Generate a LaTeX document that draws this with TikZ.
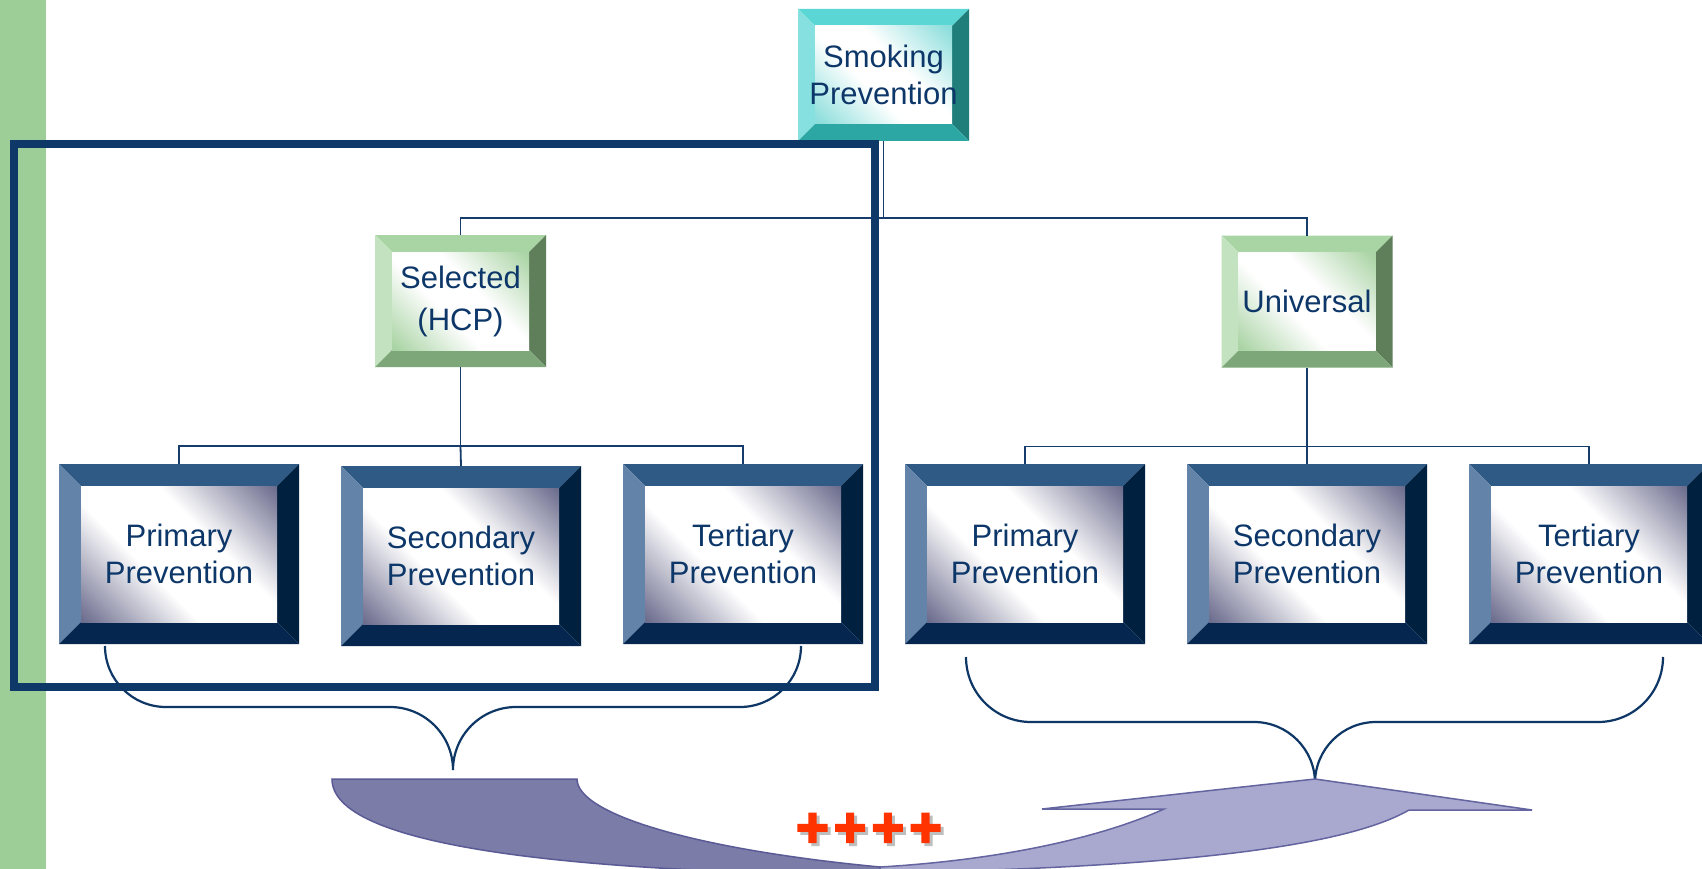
\documentclass[tikz,border=0pt]{standalone}
\usepackage{fontspec}
\setmainfont{Liberation Sans}
\newfontfamily\plusfont[FakeBold=3.5]{Liberation Sans Bold}
\definecolor{stripe}{RGB}{157,206,152}
\definecolor{frameblue}{RGB}{13,56,104}
\definecolor{txt}{RGB}{13,55,105}
\definecolor{conncol}{RGB}{22,60,108}
\definecolor{bracecol}{RGB}{14,55,102}
\definecolor{nvTop}{RGB}{47,90,133}
\definecolor{nvLeft}{RGB}{99,132,168}
\definecolor{nvRight}{RGB}{0,32,63}
\definecolor{nvBot}{RGB}{4,38,79}
\definecolor{nvShade}{RGB}{108,108,142}
\definecolor{grTop}{RGB}{168,213,163}
\definecolor{grLeft}{RGB}{195,227,192}
\definecolor{grRight}{RGB}{95,127,91}
\definecolor{grBot}{RGB}{125,166,121}
\definecolor{grShade}{RGB}{170,212,165}
\definecolor{tlTop}{RGB}{90,214,212}
\definecolor{tlLeft}{RGB}{134,224,223}
\definecolor{tlRight}{RGB}{31,125,122}
\definecolor{tlBot}{RGB}{44,167,164}
\definecolor{tlShade}{RGB}{140,222,220}
\definecolor{arDark}{RGB}{124,124,168}
\definecolor{arDarkLine}{RGB}{90,90,150}
\definecolor{arLight}{RGB}{169,169,207}
\definecolor{arLightLine}{RGB}{100,100,160}
\definecolor{plusred}{RGB}{255,51,0}
\definecolor{plusgrey}{RGB}{190,190,190}
\pgfdeclareverticalshading{shnavy}{100bp}{color(0bp)=(nvShade); color(15bp)=(nvShade); color(40bp)=(white); color(60bp)=(white); color(85bp)=(nvShade); color(100bp)=(nvShade)}
\pgfdeclareverticalshading{shgreen}{100bp}{color(0bp)=(grShade); color(16bp)=(grShade); color(42bp)=(white); color(58bp)=(white); color(84bp)=(grShade); color(100bp)=(grShade)}
\pgfdeclareverticalshading{shteal}{100bp}{color(0bp)=(tlShade); color(16bp)=(tlShade); color(42bp)=(white); color(58bp)=(white); color(84bp)=(tlShade); color(100bp)=(tlShade)}
\tikzset{
  bevelbox/.style n args={6}{
    rectangle, inner sep=0pt, outer sep=0pt, align=center, text=txt,
    font=\fontsize{31}{37}\selectfont,
    path picture={
      \coordinate (bNW) at (path picture bounding box.north west);
      \coordinate (bNE) at (path picture bounding box.north east);
      \coordinate (bSW) at (path picture bounding box.south west);
      \coordinate (bSE) at (path picture bounding box.south east);
      \coordinate (iNW) at ([shift={(#1,-#1)}]bNW);
      \coordinate (iNE) at ([shift={(-#1,-#1)}]bNE);
      \coordinate (iSW) at ([shift={(#1,#1)}]bSW);
      \coordinate (iSE) at ([shift={(-#1,#1)}]bSE);
      \fill[#2] (bNW) -- (bNE) -- (iNE) -- (iNW) -- cycle;
      \fill[#3] (bNW) -- (iNW) -- (iSW) -- (bSW) -- cycle;
      \fill[#4] (bNE) -- (bSE) -- (iSE) -- (iNE) -- cycle;
      \fill[#5] (bSW) -- (iSW) -- (iSE) -- (bSE) -- cycle;
      \shade[shading=#6, shading angle=-45] (iNW) rectangle (iSE);
    },
  },
  navybox/.style={bevelbox={22}{nvTop}{nvLeft}{nvRight}{nvBot}{shnavy}, minimum width=240, minimum height=180},
  greenbox/.style={bevelbox={17}{grTop}{grLeft}{grRight}{grBot}{shgreen}, minimum width=171, minimum height=132},
  tealbox/.style={bevelbox={17}{tlTop}{tlLeft}{tlRight}{tlBot}{shteal}, minimum width=171, minimum height=132},
  conn/.style={draw=conncol, line width=1.8},
  bracestyle/.style={draw=bracecol, line width=2.2},
  plustext/.style={font=\plusfont\fontsize{56}{56}\selectfont, inner sep=0pt},
}
\newcommand\plusrow{+\kern5pt+\kern5pt+\kern5pt+}
\begin{document}
\begin{tikzpicture}[x=1pt,y=1pt]
\useasboundingbox (0,0) rectangle (1702,-869);
\clip (0,0) rectangle (1702,-869);
\fill[white] (0,0) rectangle (1702,-869);
\fill[stripe] (0,0) rectangle (46,-869);

% boxes
\node[tealbox] (smoke) at (883.5,-75) {Smoking\\Prevention};
\node[greenbox, font=\fontsize{31}{42}\selectfont] (sel) at (460.5,-301) {Selected\\(HCP)};
\node[greenbox] (uni) at (1307,-301.5) {Universal};
\node[navybox] (p1) at (179,-554) {Primary\\Prevention};
\node[navybox] (p2) at (461,-556) {Secondary\\Prevention};
\node[navybox] (p3) at (743,-554) {Tertiary\\Prevention};
\node[navybox] (p4) at (1025,-554) {Primary\\Prevention};
\node[navybox] (p5) at (1307,-554) {Secondary\\Prevention};
\node[navybox] (p6) at (1589,-554) {Tertiary\\Prevention};

% connectors
\draw[conn] (smoke.south) -- ++(0,-77) coordinate (hub) -| (sel.north);
\draw[conn] (hub) -| (uni.north);
\draw[conn] (sel.south) -- ++(0,-79) coordinate (hubL);
\draw[conn] (hubL) -| (p1.north);
\draw[conn] (hubL) -| (p3.north);
\draw[conn] (hubL) -- (p2.north);
\draw[conn] (uni.south) -- ++(0,-79) coordinate (hubR);
\draw[conn] (hubR) -| (p4.north);
\draw[conn] (hubR) -| (p6.north);
\draw[conn] (hubR) -- (p5.north);

% frame
\node[draw=frameblue, line width=8.5, minimum width=861, minimum height=543, inner sep=0pt, outer sep=0pt] (frame) at (444.5,-415.5) {};

% braces
\draw[bracestyle] (105,-646) arc[start angle=180, end angle=270, radius=61]
  -- (390,-707) arc[start angle=90, end angle=0, radius=63]
  arc[start angle=180, end angle=90, radius=63]
  -- (740,-707) arc[start angle=270, end angle=360, radius=61];
\draw[bracestyle] (966,-657) arc[start angle=180, end angle=270, radius=65]
  -- (1254,-722) arc[start angle=90, end angle=0, radius=61]
  arc[start angle=180, end angle=90, radius=61]
  -- (1598,-722) arc[start angle=270, end angle=360, radius=65];

% curved arrow: back part
\filldraw[fill=arDark, draw=arDarkLine, line width=1.5]
  (332,-779) -- (577,-779)
  .. controls (577,-815) and (700,-850) .. (880,-867)
  -- (880,-875)
  .. controls (560,-872) and (332,-845) .. (332,-779) -- cycle;
% front part
\filldraw[fill=arLight, draw=arLightLine, line width=1.5]
  (1042,-809) -- (1315,-779) -- (1532,-810) -- (1409,-810)
  .. controls (1340,-850) and (1150,-868) .. (880,-873)
  -- (880,-867)
  .. controls (1000,-860) and (1100,-838) .. (1164,-809) -- cycle;

% plus signs
\node[plustext, text=plusgrey] (plusshade) at (872,-833) {\plusrow};
\node[plustext, text=plusred] (plus) at (869,-830) {\plusrow};
\end{tikzpicture}
\end{document}
